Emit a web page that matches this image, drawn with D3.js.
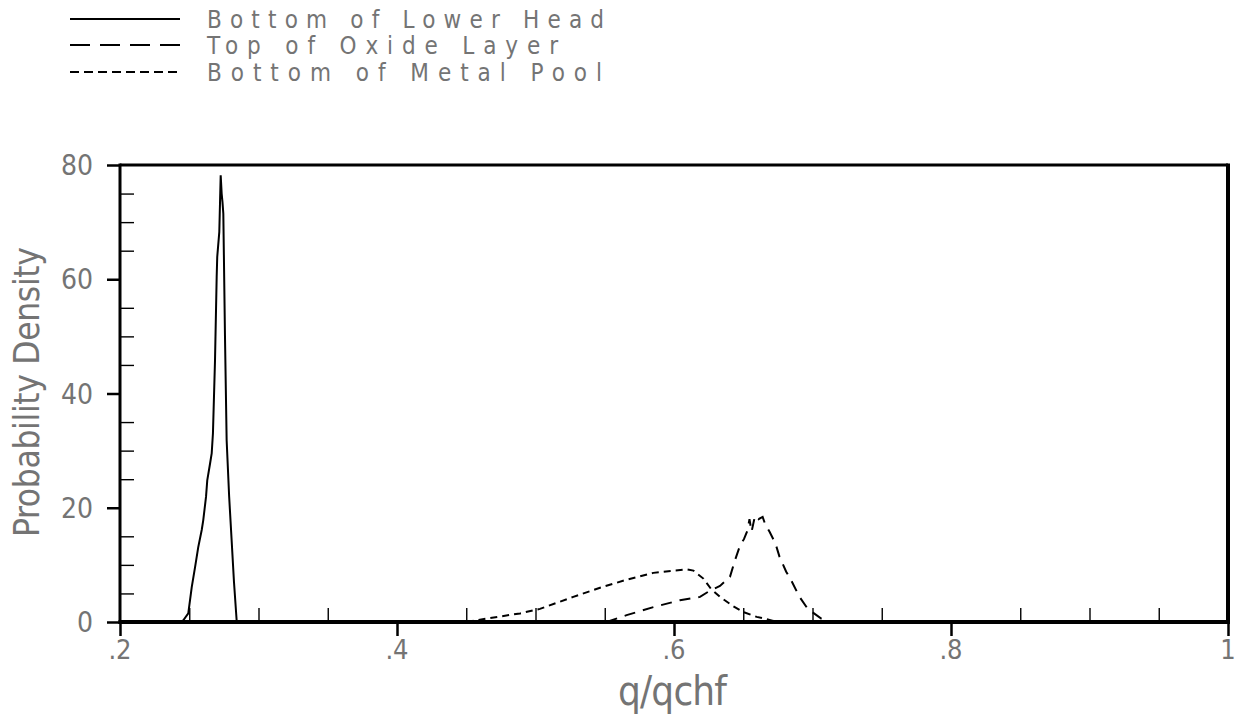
<!DOCTYPE html>
<html>
<head>
<meta charset="utf-8">
<script src="https://cdn.jsdelivr.net/npm/d3@7/dist/d3.min.js"></script>
<style>
  html, body { margin: 0; padding: 0; background: #fff; }
  svg { display: block; }
  .lbl { font-family: "Liberation Sans Narrow", "DejaVu Sans Condensed", "Liberation Sans", sans-serif; fill: #747474; }
</style>
</head>
<body>
<svg id="chart" width="1240" height="724"></svg>
<script>
// Heat-flux ratio distributions at three locations of the lower head
const seriesNames = ["Bottom of Lower Head", "Top of Oxide Layer", "Bottom of Metal Pool"];

const lowerHeadX = [0.2433, 0.2457, 0.2493, 0.2518, 0.2542, 0.2565, 0.2590, 0.2601, 0.2621, 0.2630, 0.2650, 0.2662, 0.2671, 0.2686, 0.2698, 0.2702, 0.2717, 0.2722, 0.2727, 0.2734, 0.2740, 0.2746, 0.2758, 0.2770, 0.2788, 0.2806, 0.2823, 0.2843];
const lowerHeadY = [0.0, 0.3, 1.5, 6.1, 9.6, 13.1, 16.1, 17.8, 21.9, 24.8, 27.7, 29.5, 33.0, 45.8, 60.4, 63.9, 68.3, 73.3, 78.2, 75.0, 73.5, 71.5, 50.0, 31.8, 22.0, 14.3, 7.0, 0.0];

const oxideX = [0.5514, 0.5658, 0.5851, 0.6043, 0.6188, 0.6260, 0.6332, 0.6404, 0.6440, 0.6477, 0.6505, 0.6530, 0.6545, 0.6560, 0.6585, 0.6610, 0.6640, 0.6660, 0.6690, 0.6733, 0.6762, 0.6810, 0.6846, 0.6906, 0.6966, 0.7063, 0.7124];
const oxideY = [0.0, 1.2, 2.6, 3.8, 4.4, 5.5, 6.3, 7.9, 10.8, 13.4, 14.5, 16.0, 18.0, 15.8, 18.6, 18.0, 18.4, 17.0, 15.8, 13.7, 11.4, 8.8, 7.3, 4.4, 2.3, 0.6, 0.0];

const metalX = [0.4503, 0.4671, 0.4888, 0.5032, 0.5273, 0.5466, 0.5658, 0.5851, 0.5995, 0.6092, 0.6140, 0.6212, 0.6267, 0.6332, 0.6428, 0.6500, 0.6597, 0.6669, 0.6717, 0.6800];
const metalY = [0.0, 0.7, 1.5, 2.3, 4.4, 6.0, 7.4, 8.6, 9.0, 9.2, 9.0, 7.6, 5.8, 4.4, 2.75, 1.75, 0.9, 0.5, 0.2, 0.0];

const xMajorTicks = [0.2, 0.4, 0.6, 0.8, 1.0];
const xTickLabels = [".2", ".4", ".6", ".8", "1"];
const xMinorTicks = [0.25, 0.3, 0.35, 0.45, 0.5, 0.55, 0.65, 0.7, 0.75, 0.85, 0.9, 0.95];
const yMajorTicks = [0, 20, 40, 60, 80];
const yTickLabels = ["0", "20", "40", "60", "80"];
const yMinorTicks = [5, 10, 15, 25, 30, 35, 45, 50, 55, 65, 70, 75];

const svg = d3.select("#chart");
const plot = { left: 120, right: 1228, top: 165, bottom: 622 };

const x = d3.scaleLinear().domain([0.2, 1.0]).range([plot.left, plot.right]);
const y = d3.scaleLinear().domain([0, 80]).range([plot.bottom, plot.top]);

// minor ticks point into the plot, major ticks point outward
const xMinorAxis = d3.axisTop(x).tickValues(xMinorTicks).tickSize(14).tickFormat("");
const xMajorAxis = d3.axisBottom(x).tickValues(xMajorTicks).tickSize(14).tickFormat("");
const yMinorAxis = d3.axisRight(y).tickValues(yMinorTicks).tickSize(14).tickFormat("");
const yMajorAxis = d3.axisLeft(y).tickValues(yMajorTicks).tickSize(13).tickFormat("");

function styleAxis(g, w) {
  g.select(".domain").remove();
  g.selectAll(".tick line").attr("stroke", "#000").attr("stroke-width", w);
}
svg.append("g").attr("transform", `translate(0,${plot.bottom})`).call(xMinorAxis).call(g => styleAxis(g, 1.4));
svg.append("g").attr("transform", `translate(0,${plot.bottom})`).call(xMajorAxis).call(g => styleAxis(g, 2.5));
svg.append("g").attr("transform", `translate(${plot.left},0)`).call(yMinorAxis).call(g => styleAxis(g, 1.4));
svg.append("g").attr("transform", `translate(${plot.left},0)`).call(yMajorAxis).call(g => styleAxis(g, 2.5));

// tick labels
svg.append("g").selectAll("text").data(xMajorTicks).join("text")
  .attr("class", "lbl")
  .attr("x", d => x(d)).attr("y", 659)
  .attr("text-anchor", "middle").attr("font-size", 27)
  .text((d, i) => xTickLabels[i]);
svg.append("g").selectAll("text").data(yMajorTicks).join("text")
  .attr("class", "lbl")
  .attr("x", 93).attr("y", d => y(d) + 10)
  .attr("text-anchor", "end").attr("font-size", 28)
  .text((d, i) => yTickLabels[i]);

// axis titles
svg.append("text").attr("class", "lbl")
  .attr("x", 618).attr("y", 705).attr("font-size", 40)
  .attr("textLength", 109).attr("lengthAdjust", "spacing")
  .text("q/qchf");
svg.append("text").attr("class", "lbl")
  .attr("transform", "translate(39,537) rotate(-90)")
  .attr("font-size", 35)
  .attr("textLength", 290).attr("lengthAdjust", "spacing")
  .text("Probability Density");

// curves
const line = d3.line().x(d => x(d[0])).y(d => y(d[1]));
const curves = [
  { xs: lowerHeadX, ys: lowerHeadY, dash: null },
  { xs: oxideX, ys: oxideY, dash: "11,8" },
  { xs: metalX, ys: metalY, dash: "7,5" }
];
svg.append("g").selectAll("path").data(curves).join("path")
  .attr("d", c => line(c.xs.map((v, i) => [v, c.ys[i]])))
  .attr("fill", "none").attr("stroke", "#000").attr("stroke-width", 2)
  .attr("stroke-dasharray", c => c.dash);

// frame
svg.append("line").attr("x1", plot.left).attr("x2", plot.right).attr("y1", plot.top).attr("y2", plot.top)
  .attr("stroke", "#000").attr("stroke-width", 3);
svg.append("line").attr("x1", plot.right).attr("x2", plot.right).attr("y1", plot.top - 1.5).attr("y2", plot.bottom + 2)
  .attr("stroke", "#000").attr("stroke-width", 4);
svg.append("line").attr("x1", plot.left).attr("x2", plot.left).attr("y1", plot.top - 1.5).attr("y2", plot.bottom + 2)
  .attr("stroke", "#000").attr("stroke-width", 3);
svg.append("line").attr("x1", plot.left - 1.5).attr("x2", plot.right + 2).attr("y1", plot.bottom).attr("y2", plot.bottom)
  .attr("stroke", "#000").attr("stroke-width", 4);

// legend
const legendRows = [19, 45, 72];
const legendDash = [null, "20,10", "9,5"];
const legendLen = [397, 351, 395];
const lg = svg.append("g");
seriesNames.forEach((name, i) => {
  lg.append("line").attr("x1", 70).attr("x2", 180).attr("y1", legendRows[i]).attr("y2", legendRows[i])
    .attr("stroke", "#000").attr("stroke-width", 2).attr("stroke-dasharray", legendDash[i]);
  lg.append("text").attr("class", "lbl")
    .attr("x", 207).attr("y", legendRows[i] + 8.5).attr("font-size", 24)
    .attr("textLength", legendLen[i]).attr("lengthAdjust", "spacing")
    .text(name);
});
</script>
</body>
</html>
